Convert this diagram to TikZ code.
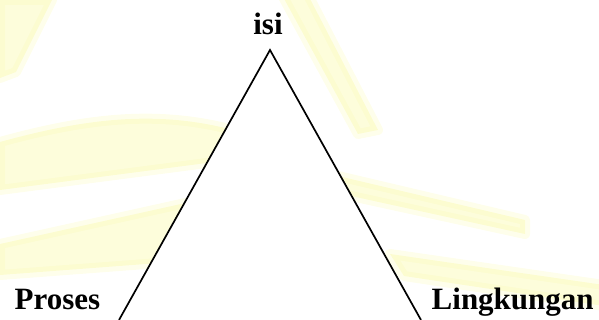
\documentclass[tikz,border=0pt]{standalone}
\usepackage{fontspec}
\setmainfont{Liberation Serif}
\definecolor{wm}{RGB}{250,250,175}
\tikzset{
  band/.style={fill=wm, draw=wm, line width=10pt, line join=round, fill opacity=0.45, draw opacity=0.25},
  lbl/.style={font=\bfseries\fontsize{31}{31}\selectfont, inner sep=0pt},
  edge/.style={draw=black, line width=1.7pt}
}
\begin{document}
\begin{tikzpicture}[x=1pt,y=1pt]
\useasboundingbox (0,0) rectangle (599,320);
\clip (0,0) rectangle (599,320);
% watermark bands (image coordinates flipped: y = 320 - y_img)
\path[band] (0,320) -- (52,320) -- (16,248) -- (0,242) -- cycle;
\path[band] (282,325) -- (308,325) -- (378,190) -- (358,186) -- cycle;
\path[band] (0,178) .. controls (80,200) and (150,210) .. (225,192) -- (245,162) -- (0,130) -- cycle;
\path[band] (0,76) -- (190,118) -- (172,58) -- (0,45) -- cycle;
\path[band] (338,144) -- (525,100) -- (525,86) -- (342,126) -- cycle;
\path[band] (390,66) -- (604,35) -- (604,14) -- (404,44) -- cycle;
% triangle
\coordinate (top) at (270,270);
\coordinate (bl) at (119,0);
\coordinate (br) at (421,0);
\fill[white] (top) -- (bl) -- (br) -- cycle;
\draw[edge] (bl) -- (top) -- (br);
% labels
\node[lbl, anchor=base] (isi) at (268,285) {isi};
\node[lbl, anchor=base west] (proses) at (14.5,10) {Proses};
\node[lbl, anchor=base west] (lingk) at (431.5,10) {Lingkungan};
\end{tikzpicture}
\end{document}
